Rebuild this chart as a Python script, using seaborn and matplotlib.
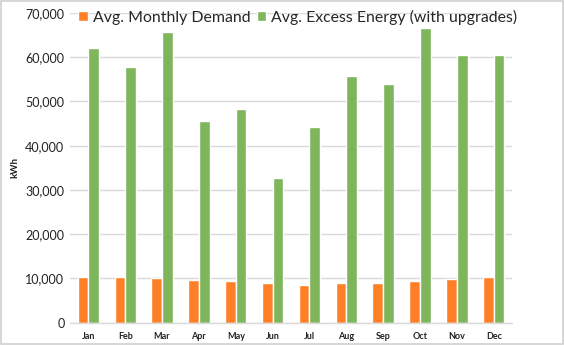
import matplotlib
matplotlib.use("Agg")
import matplotlib.pyplot as plt
import seaborn as sns
import pandas as pd
from matplotlib.patches import Rectangle
from matplotlib.ticker import FuncFormatter, MultipleLocator, FixedLocator

months = ["Jan", "Feb", "Mar", "Apr", "May", "Jun", "Jul", "Aug", "Sep", "Oct", "Nov", "Dec"]
demand = [10260, 10400, 10170, 9650, 9420, 9040, 8520, 8900, 8970, 9350, 9940, 10260]
excess = [62000, 57800, 65600, 45600, 48200, 32700, 44200, 55800, 54000, 66600, 60500, 60500]
series_names = ["Avg. Monthly Demand", "Avg. Excess Energy (with upgrades)"]
colors = ["#FF7F27", "#7FB55B"]

df = pd.DataFrame({
    "Month": months * 2,
    "Value": demand + excess,
    "Series": [series_names[0]] * len(months) + [series_names[1]] * len(months),
})

sns.set_theme(style="white")
plt.rcParams["font.family"] = ["Lato", "DejaVu Sans"]

fig = plt.figure(figsize=(5.64, 3.45), dpi=100)
ax = fig.add_axes([0.124, 0.0646, 0.784, 0.898])

sns.barplot(data=df, x="Month", y="Value", hue="Series", palette=colors,
            width=0.58, gap=0, ax=ax, saturation=1, legend=True)

ax.set_ylim(0, 70000)
ax.set_xlim(-0.5, 11.5)
ax.yaxis.set_major_locator(MultipleLocator(10000))
ax.yaxis.set_major_formatter(FuncFormatter(lambda v, p: f"{int(v):,}"))
ax.grid(axis="y", color="#D9D9D9", linewidth=1)
ax.set_axisbelow(True)
for s in ["top", "right", "left"]:
    ax.spines[s].set_visible(False)
ax.spines["bottom"].set_color("#D9D9D9")
ax.spines["bottom"].set_linewidth(1)

ax.tick_params(axis="y", length=0, labelsize=9, colors="#222222", pad=4)
ax.tick_params(axis="x", which="major", length=0, labelsize=6.5, pad=7)
ax.xaxis.set_minor_locator(FixedLocator([i + 0.5 for i in range(-1, 12)]))
ax.tick_params(axis="x", which="minor", length=4, color="#D9D9D9", width=1, direction="out")
for lbl in ax.get_xticklabels():
    lbl.set_fontweight("bold")
    lbl.set_color("#222222")

ax.set_xlabel("")
ax.set_ylabel("kWh", fontsize=7, fontweight="bold", color="#222222", labelpad=4)

ax.legend(loc="upper left", bbox_to_anchor=(0.005, 1.03), ncol=2, frameon=False,
          fontsize=11.4, handlelength=0.6, handleheight=0.6, handletextpad=0.3,
          columnspacing=0.4, borderaxespad=0)

fig.patches.append(Rectangle((0.002, 0.003), 0.996, 0.994, transform=fig.transFigure,
                             fill=False, edgecolor="#D0D0D0", linewidth=1.2))

fig.savefig("out.png", dpi=100)
